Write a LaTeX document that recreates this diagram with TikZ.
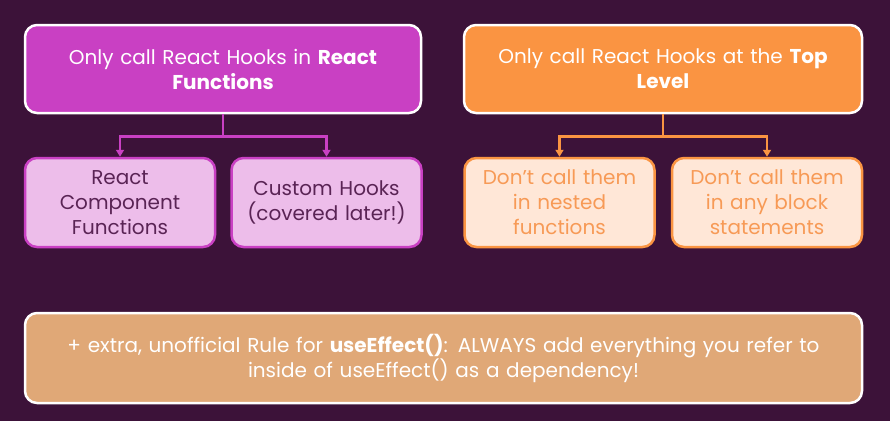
\documentclass[tikz,border=0pt]{standalone}
\usepackage{fontspec}
\setmainfont{Poppins}
\usetikzlibrary{arrows.meta}

\definecolor{bgpurple}{HTML}{3C1239}
\definecolor{hookpink}{HTML}{C940C3}
\definecolor{hooklight}{HTML}{EDBDEA}
\definecolor{hooktext}{HTML}{5A2455}
\definecolor{rulorange}{HTML}{FA9442}
\definecolor{rullight}{HTML}{FFE7D7}
\definecolor{rultext}{HTML}{F79A56}
\definecolor{extrafill}{HTML}{E0A877}

\tikzset{
  rulebox/.style={draw=white, line width=2.5pt, rounded corners=12pt, align=center,
    text=white, inner sep=0pt, minimum height=88pt, font=\fontsize{20}{25}\selectfont},
  kidbox/.style={line width=2.5pt, rounded corners=12pt, align=center,
    inner sep=0pt, minimum width=190pt, minimum height=89pt, text width=185pt,
    font=\fontsize{20}{25}\selectfont},
  link/.style={line width=2.5pt, -{Triangle[length=7pt,width=8pt]}}
}

\begin{document}
\begin{tikzpicture}[x=1pt,y=-1pt]
  \fill[bgpurple] (0,0) rectangle (890,421);
  \useasboundingbox (0,0) rectangle (890,421);

  % left rule and its children
  \node[rulebox, fill=hookpink, minimum width=396pt, text width=390pt] (reactfn) at (223,69)
    {Only call React Hooks in \textbf{React}\\\textbf{Functions}};
  \node[kidbox, draw=hookpink, fill=hooklight, text=hooktext] (compfn) at (120,202.5)
    {React\\Component\\Functions};
  \node[kidbox, draw=hookpink, fill=hooklight, text=hooktext] (customhk) at (326.5,202.5)
    {Custom Hooks\\(covered later!)};
  \draw[link, hookpink] (reactfn.south) -- ++(0,22) -| (compfn.north);
  \draw[link, hookpink] (reactfn.south) -- ++(0,22) -| (customhk.north);

  % right rule and its children
  \node[rulebox, fill=rulorange, minimum width=398pt, text width=390pt] (toplvl) at (663,69)
    {Only call React Hooks at the \textbf{Top}\\\textbf{Level}};
  \node[kidbox, draw=rulorange, fill=rullight, text=rultext] (nested) at (559.5,202.5)
    {Don’t call them\\in nested\\functions};
  \node[kidbox, draw=rulorange, fill=rullight, text=rultext] (blocks) at (767,202.5)
    {Don’t call them\\in any block\\statements};
  \draw[link, rulorange] (toplvl.south) -- ++(0,22) -| (nested.north);
  \draw[link, rulorange] (toplvl.south) -- ++(0,22) -| (blocks.north);

  % extra rule
  \node[rulebox, fill=extrafill, minimum width=837pt, minimum height=90pt, text width=830pt] (extra) at (443.5,358)
    {+ extra, unofficial Rule for \textbf{useEffect()}: ALWAYS add everything you refer to\\inside of useEffect() as a dependency!};
\end{tikzpicture}
\end{document}
